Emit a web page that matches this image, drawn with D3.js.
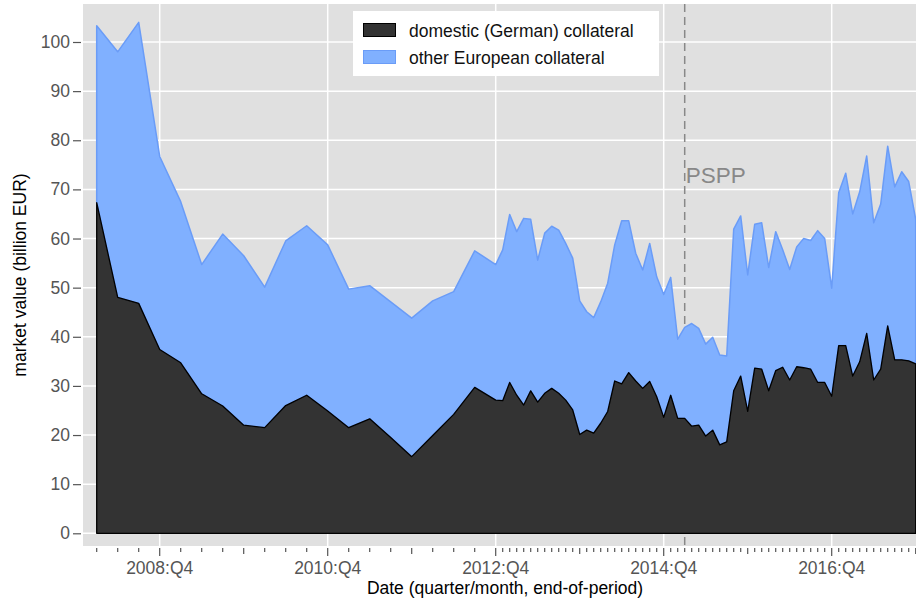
<!DOCTYPE html>
<html>
<head>
<meta charset="utf-8">
<script src="https://cdn.jsdelivr.net/npm/d3@7"></script>
<style>
  body { margin: 0; background: #fff; }
  svg { display: block; font-family: "Liberation Sans", Arial, sans-serif; }
  .tick text { fill: #555; font-size: 17.5px; }
  .tick line { stroke: #555; }
</style>
</head>
<body>
<div id="chart"></div>
<script>
// quarterly observations up to 2012, monthly afterwards
var quarters = [
  "2008:Q1","2008:Q2","2008:Q3","2008:Q4","2009:Q1","2009:Q2","2009:Q3","2009:Q4",
  "2010:Q1","2010:Q2","2010:Q3","2010:Q4","2011:Q1","2011:Q2","2011:Q3","2011:Q4",
  "2012:Q1","2012:Q2","2012:Q3","2012:Q4"
];
var months = [
  "2013:M01","2013:M02","2013:M03","2013:M04","2013:M05","2013:M06","2013:M07","2013:M08","2013:M09","2013:M10","2013:M11","2013:M12",
  "2014:M01","2014:M02","2014:M03","2014:M04","2014:M05","2014:M06","2014:M07","2014:M08","2014:M09","2014:M10","2014:M11","2014:M12",
  "2015:M01","2015:M02","2015:M03","2015:M04","2015:M05","2015:M06","2015:M07","2015:M08","2015:M09","2015:M10","2015:M11","2015:M12",
  "2016:M01","2016:M02","2016:M03","2016:M04","2016:M05","2016:M06","2016:M07","2016:M08","2016:M09","2016:M10","2016:M11","2016:M12",
  "2017:M01","2017:M02","2017:M03","2017:M04","2017:M05","2017:M06","2017:M07","2017:M08","2017:M09","2017:M10","2017:M11","2017:M12"
];
var periods = quarters.concat(months);

// billion EUR
var domestic = [
  67.3, 48.0, 46.8, 37.4, 34.7, 28.4, 25.9, 22.0, 21.5, 26.0,
  28.1, 24.9, 21.5, 23.3, 19.5, 15.6, 19.9, 24.2, 29.7, 27.1,
  27.0, 30.7, 28.1, 26.1, 29.0, 26.7, 28.5, 29.5, 28.5, 27.1, 25.1, 20.1,
  21.0, 20.4, 22.4, 24.8, 31.0, 30.4, 32.7, 31.0, 29.5, 30.9, 27.8, 23.6,
  28.1, 23.4, 23.4, 21.8, 22.0, 19.8, 21.0, 18.0, 18.6, 29.0, 32.0, 24.8,
  33.6, 33.4, 29.0, 33.1, 33.8, 31.2, 33.9, 33.7, 33.4, 30.7, 30.7, 27.9,
  38.2, 38.2, 32.0, 34.9, 40.7, 31.2, 33.4, 42.2, 35.3, 35.3, 35.1, 34.5
];
var otherEuropean = [
  36.0, 50.0, 57.2, 39.3, 32.8, 26.3, 35.0, 34.5, 28.6, 33.5,
  34.5, 33.8, 28.2, 27.1, 27.6, 28.2, 27.4, 25.0, 27.8, 27.6,
  30.7, 34.2, 33.3, 38.0, 34.9, 28.9, 32.6, 33.0, 33.2, 31.9, 30.9, 27.2,
  24.1, 23.5, 24.7, 26.1, 27.7, 33.2, 30.9, 26.0, 24.1, 28.1, 24.4, 25.0,
  24.0, 16.1, 18.5, 20.9, 19.7, 18.7, 18.9, 18.3, 17.5, 32.9, 32.6, 27.8,
  29.3, 29.8, 25.1, 28.3, 23.9, 22.5, 24.4, 26.3, 26.2, 30.9, 29.3, 22.0,
  31.1, 35.1, 33.0, 34.6, 36.1, 32.0, 33.6, 36.6, 35.2, 38.3, 36.5, 29.4
];
var yTicks = [0, 10, 20, 30, 40, 50, 60, 70, 80, 90, 100];
var labelled = ["2008:Q4", "2010:Q4", "2012:Q4", "2014:M12", "2016:M12"];
var pspp = "2015:M03";
var seriesNames = ["domestic (German) collateral", "other European collateral"];

// "2008:Q4" -> month count, "2014:M12" -> month count
function monthNo(p) {
  var yr = +p.slice(0, 4), k = p.charAt(5), n = +p.slice(6);
  return yr * 12 + (k === "Q" ? n * 3 : n) - 1;
}
function tickText(p) {
  var yr = p.slice(0, 4);
  return p.charAt(5) === "Q" ? p : yr + ":Q" + (+p.slice(6) / 3);
}

var W = 916, H = 602;
var panel = {left: 83, right: 916, top: 4, bottom: 546};

var svg = d3.select("#chart").append("svg")
  .attr("width", W).attr("height", H);

var x = d3.scaleLinear()
  .domain([monthNo(periods[0]), monthNo(periods[periods.length - 1])])
  .range([96.7, 915.7]);
var y = d3.scaleLinear().domain([0, 100]).range([533.3, 42.0]);

var rows = periods.map(function(p, i) {
  return {m: monthNo(p), dom: domestic[i], oth: otherEuropean[i]};
});
var stacked = d3.stack().keys(["dom", "oth"])(rows);

// panel
svg.append("rect")
  .attr("x", panel.left).attr("y", panel.top)
  .attr("width", panel.right - panel.left).attr("height", panel.bottom - panel.top)
  .attr("fill", "#e0e0e0");

svg.append("g").selectAll("line")
  .data(yTicks)
  .enter().append("line")
    .attr("x1", panel.left).attr("x2", panel.right)
    .attr("y1", d => y(d)).attr("y2", d => y(d))
    .attr("stroke", "#fff").attr("stroke-width", 1.5);

svg.append("g").selectAll("line")
  .data(labelled)
  .enter().append("line")
    .attr("x1", d => x(monthNo(d))).attr("x2", d => x(monthNo(d)))
    .attr("y1", panel.top).attr("y2", panel.bottom)
    .attr("stroke", "#fff").attr("stroke-width", 1.5);

// PSPP marker (behind the areas)
svg.append("line")
  .attr("x1", x(monthNo(pspp))).attr("x2", x(monthNo(pspp)))
  .attr("y1", panel.top).attr("y2", panel.bottom)
  .attr("stroke", "#888").attr("stroke-width", 1.5)
  .attr("stroke-dasharray", "8,5");

var area = d3.area()
  .x(d => x(d.data.m))
  .y0(d => y(d[0]))
  .y1(d => y(d[1]));

svg.append("path")
  .datum(stacked[1])
  .attr("d", area)
  .attr("fill", "#80b0ff")
  .attr("stroke", "#6a9cf7")
  .attr("stroke-width", 1.5)
  .attr("stroke-linejoin", "round");

svg.append("path")
  .datum(stacked[0])
  .attr("d", area)
  .attr("fill", "#333333")
  .attr("stroke", "#000")
  .attr("stroke-width", 1.3)
  .attr("stroke-linejoin", "round");

svg.append("text")
  .attr("x", x(monthNo(pspp)) + 1).attr("y", 183)
  .attr("fill", "#888").attr("font-size", "22.5px")
  .text("PSPP");

// y axis
svg.append("g")
  .attr("transform", `translate(${panel.left - 2},0)`)
  .call(d3.axisLeft(y).tickValues(yTicks).tickSize(8).tickPadding(3))
  .call(g => g.select(".domain").remove())
  .call(g => g.selectAll(".tick line").attr("stroke-width", 1.2));

// x axis: one tick per observation
var xTicks = svg.append("g");
xTicks.selectAll("line")
  .data(periods)
  .enter().append("line")
    .attr("x1", d => x(monthNo(d))).attr("x2", d => x(monthNo(d)))
    .attr("y1", panel.bottom + 2)
    .attr("y2", function(d) {
      if (labelled.indexOf(d) >= 0) return panel.bottom + 10;
      if (d.endsWith("Q4") || d.endsWith("M12")) return panel.bottom + 8;
      return panel.bottom + 6;
    })
    .attr("stroke", "#555").attr("stroke-width", 1.2);

xTicks.selectAll("text")
  .data(labelled)
  .enter().append("text")
    .attr("x", d => x(monthNo(d)))
    .attr("y", 574)
    .attr("text-anchor", "middle")
    .attr("fill", "#555").attr("font-size", "17.5px")
    .text(tickText);

// axis titles
svg.append("text")
  .attr("x", 505).attr("y", 594)
  .attr("text-anchor", "middle")
  .attr("font-size", "17.5px").attr("fill", "#000")
  .text("Date (quarter/month, end-of-period)");

svg.append("text")
  .attr("transform", "translate(26,275) rotate(-90)")
  .attr("text-anchor", "middle")
  .attr("font-size", "17.5px").attr("fill", "#000")
  .text("market value (billion EUR)");

// legend
var legend = svg.append("g").attr("transform", "translate(353,11)");
legend.append("rect")
  .attr("width", 306).attr("height", 65).attr("fill", "#fff");

var swatch = [{fill: "#333333", stroke: "#000"}, {fill: "#80b0ff", stroke: "#6a9cf7"}];
seriesNames.forEach(function(name, i) {
  legend.append("rect")
    .attr("x", 10.5).attr("y", 12.5 + i * 27)
    .attr("width", 32).attr("height", 13)
    .attr("fill", swatch[i].fill).attr("stroke", swatch[i].stroke);
  legend.append("text")
    .attr("x", 56).attr("y", 25.5 + i * 27)
    .attr("font-size", "17.5px").attr("fill", "#111")
    .text(name);
});
</script>
</body>
</html>
